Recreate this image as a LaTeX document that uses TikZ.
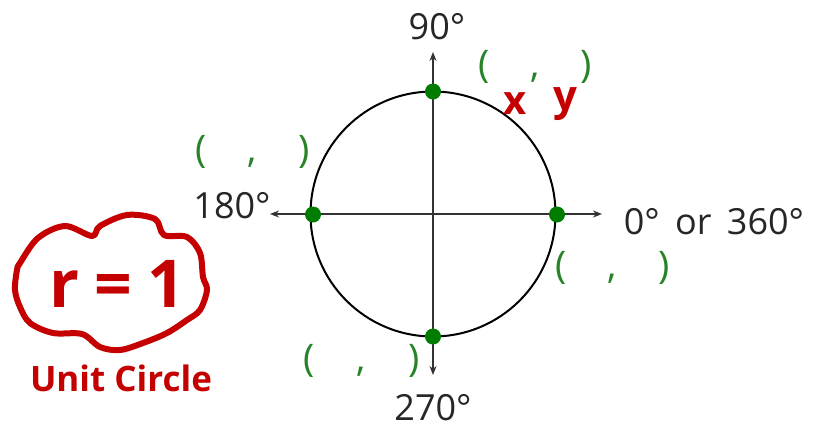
\documentclass[tikz,border=0pt]{standalone}
\usepackage{fontspec}
\setmainfont{Open Sans}
\usetikzlibrary{arrows.meta}
\definecolor{inkred}{RGB}{196,0,0}
\definecolor{dotgreen}{RGB}{0,125,0}
\definecolor{pgreen}{RGB}{40,130,40}
\definecolor{axisgray}{RGB}{50,50,50}
\tikzset{
  axisline/.style={draw=axisgray, line width=1.3pt, -{Stealth[length=9pt,width=7pt]}},
  ucircle/.style={draw=black, line width=2pt},
  gdot/.style={circle, fill=dotgreen, minimum width=15pt, minimum height=16pt, inner sep=0pt},
  deglabel/.style={inner sep=0pt, text=black!85, font=\fontsize{36}{36}\selectfont},
  pairlabel/.style={inner sep=0pt, text=pgreen, font=\fontsize{38}{38}\selectfont},
  redtext/.style={inner sep=0pt, text=inkred, font=\bfseries},
  cloudline/.style={draw=inkred, line width=6pt, line join=round}
}
\begin{document}
\begin{tikzpicture}[x=1pt,y=-1pt]
\useasboundingbox (0,0) rectangle (820,429);
% axes
\coordinate (O) at (433,214);
\coordinate (top) at (433,52);
\coordinate (bottom) at (433,375);
\coordinate (left) at (270,214);
\coordinate (right) at (602,214);
\draw[axisline] (O) -- (top);
\draw[axisline] (O) -- (bottom);
\draw[axisline] (O) -- (left);
\draw[axisline] (O) -- (right);
% circle
\draw[ucircle] (O) circle[radius=122.5];
% dots
\node[gdot] (d90) at (433,91.5) {};
\node[gdot] (d180) at (313,214.5) {};
\node[gdot] (d0) at (557,214.5) {};
\node[gdot] (d270) at (433,336.5) {};
% degree labels
\node[deglabel] (l90) at (437,27) {90°};
\node[deglabel] (l180) at (232,206) {180°};
\node[deglabel] (l0) at (714,222) {0°\hspace{6pt} or\hspace{6pt} 360°};
\node[deglabel] (l270) at (433,408) {270°};
% coordinate pairs
\node[pairlabel] (p90) at (535,67) {\makebox[114pt]{(\hfill,\hfill)}};
\node[pairlabel] (p180) at (252.5,152) {\makebox[115pt]{(\hfill,\hfill)}};
\node[pairlabel] (p0) at (612.5,268) {\makebox[115pt]{(\hfill,\hfill)}};
\node[pairlabel] (p270) at (361.5,361) {\makebox[117pt]{(\hfill,\hfill)}};
% handwritten x y
\node[redtext, font=\bfseries\fontsize{40}{40}\selectfont] (xlab) at (515,104) {x};
\node[redtext, font=\bfseries\fontsize{42}{42}\selectfont] (ylab) at (565,104) {y};
% cloud
\draw[cloudline] plot[smooth cycle, tension=0.55] coordinates {
  (20,263) (38,238) (65,226) (92,236) (100,226) (127,215) (155,219) (164,235)
  (187,237) (200,253) (203,277) (207,290) (200,310) (187,320) (167,333)
  (143,343) (120,350) (100,347) (82,334) (53,333) (30,323) (20,307) (15,290) (17,270)};
\node[redtext, font=\bfseries\fontsize{66}{66}\selectfont] (rlab) at (117,284) {r\hspace{-2pt} = \hspace{-2pt}1};
\node[redtext, font=\bfseries\fontsize{35}{35}\selectfont] (ulab) at (121,378) {Unit Circle};
\end{tikzpicture}
\end{document}
